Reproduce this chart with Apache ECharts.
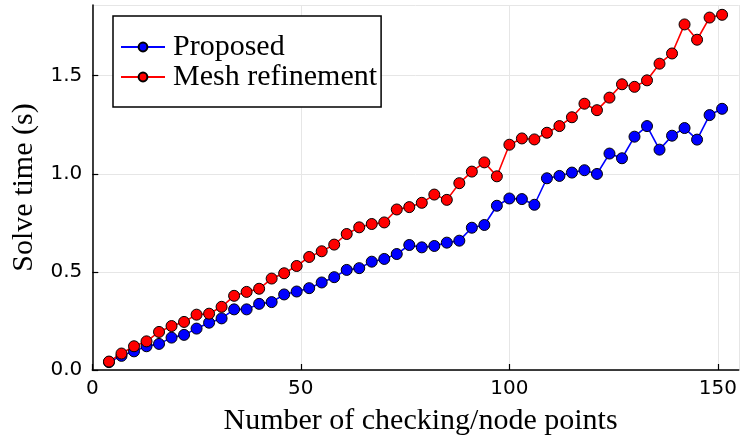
<!DOCTYPE html>
<html>
<head>
<meta charset="utf-8">
<script src="https://cdn.jsdelivr.net/npm/echarts@6/dist/echarts.min.js"></script>
<style>
  html, body { margin: 0; padding: 0; background: #fff; }
  #chart { width: 740px; height: 441px; }
</style>
</head>
<body>
<div id="chart"></div>
<script>
// Number of checking/node points
const nodePoints = [4, 7, 10, 13, 16, 19, 22, 25, 28, 31, 34, 37, 40, 43, 46, 49, 52, 55, 58, 61,
  64, 67, 70, 73, 76, 79, 82, 85, 88, 91, 94, 97, 100, 103, 106, 109, 112, 115, 118, 121,
  124, 127, 130, 133, 136, 139, 142, 145, 148, 151];

// Solve time (s), proposed method
const proposedTime = [0.040, 0.072, 0.095, 0.121, 0.133, 0.165, 0.179, 0.211, 0.241, 0.263,
  0.309, 0.309, 0.337, 0.346, 0.385, 0.400, 0.417, 0.446, 0.473, 0.510,
  0.519, 0.552, 0.566, 0.591, 0.637, 0.625, 0.632, 0.649, 0.659, 0.725,
  0.739, 0.837, 0.874, 0.871, 0.842, 0.977, 0.989, 1.006, 1.018, 0.999,
  1.103, 1.079, 1.189, 1.243, 1.123, 1.194, 1.233, 1.174, 1.299, 1.331];

// Solve time (s), mesh refinement
const meshTime = [0.043, 0.084, 0.121, 0.146, 0.194, 0.224, 0.245, 0.282, 0.287, 0.322,
  0.378, 0.398, 0.414, 0.466, 0.493, 0.530, 0.576, 0.605, 0.639, 0.693,
  0.727, 0.744, 0.752, 0.818, 0.830, 0.852, 0.894, 0.867, 0.952, 1.011,
  1.058, 0.987, 1.148, 1.180, 1.175, 1.209, 1.243, 1.288, 1.357, 1.324,
  1.388, 1.456, 1.443, 1.476, 1.561, 1.613, 1.761, 1.683, 1.796, 1.810];

const seriesNames = ['Proposed', 'Mesh refinement'];

const serif = '"Liberation Serif", "Times New Roman", serif';
const sans = '"DejaVu Sans", sans-serif';

function pairs(xs, ys) {
  return xs.map((x, i) => [x, ys[i]]);
}

function lineSeries(name, color, ys) {
  return {
    name: name,
    type: 'line',
    data: pairs(nodePoints, ys),
    symbol: 'circle',
    symbolSize: 11,
    showAllSymbol: true,
    animation: false,
    lineStyle: { color: color, width: 1.6 },
    itemStyle: { color: color, borderColor: '#000', borderWidth: 1 },
    emphasis: { disabled: true }
  };
}

const axisCommon = {
  axisLine: { show: true, onZero: false, lineStyle: { color: '#000', width: 1.5 } },
  axisTick: { show: true, inside: true, length: 6, lineStyle: { color: '#000', width: 1.2 } },
  splitLine: { show: true, lineStyle: { color: '#e6e6e6', width: 1 } }
};

const chart = echarts.init(document.getElementById('chart'), null, { renderer: 'canvas' });
chart.setOption({
  backgroundColor: '#fff',
  animation: false,
  grid: { left: 92.3, right: 0, top: 5, bottom: 69.5, containLabel: false },
  legend: {
    orient: 'vertical',
    left: 113,
    top: 16,
    data: seriesNames,
    backgroundColor: '#fff',
    borderColor: '#000',
    borderWidth: 1.5,
    borderRadius: 0,
    padding: [16, 4, 15, 7],
    itemGap: 0,
    itemWidth: 44,
    itemHeight: 11,
    textStyle: {
      fontFamily: serif,
      fontSize: 30,
      lineHeight: 29.3,
      color: '#000',
      padding: [0, 0, 0, 3]
    }
  },
  xAxis: Object.assign({
    type: 'value',
    min: 0,
    max: 155,
    interval: 50,
    name: 'Number of checking/node points',
    nameLocation: 'middle',
    nameGap: 36,
    nameTextStyle: { fontFamily: serif, fontSize: 30, color: '#000', padding: [0, 0, 0, 10] },
    axisLabel: { fontFamily: sans, fontSize: 20, color: '#000', margin: 9,
      showMaxLabel: false }
  }, axisCommon),
  yAxis: Object.assign({
    type: 'value',
    min: 0,
    max: 1.86,
    interval: 0.5,
    name: 'Solve time (s)',
    nameLocation: 'middle',
    nameGap: 53,
    nameTextStyle: { fontFamily: serif, fontSize: 30, color: '#000' },
    axisLabel: { fontFamily: sans, fontSize: 20, color: '#000', margin: 10,
      showMaxLabel: false,
      formatter: v => v.toFixed(1) }
  }, axisCommon),
  series: [
    lineSeries(seriesNames[0], '#0000ff', proposedTime),
    lineSeries(seriesNames[1], '#ff0000', meshTime)
  ]
});
</script>
</body>
</html>
